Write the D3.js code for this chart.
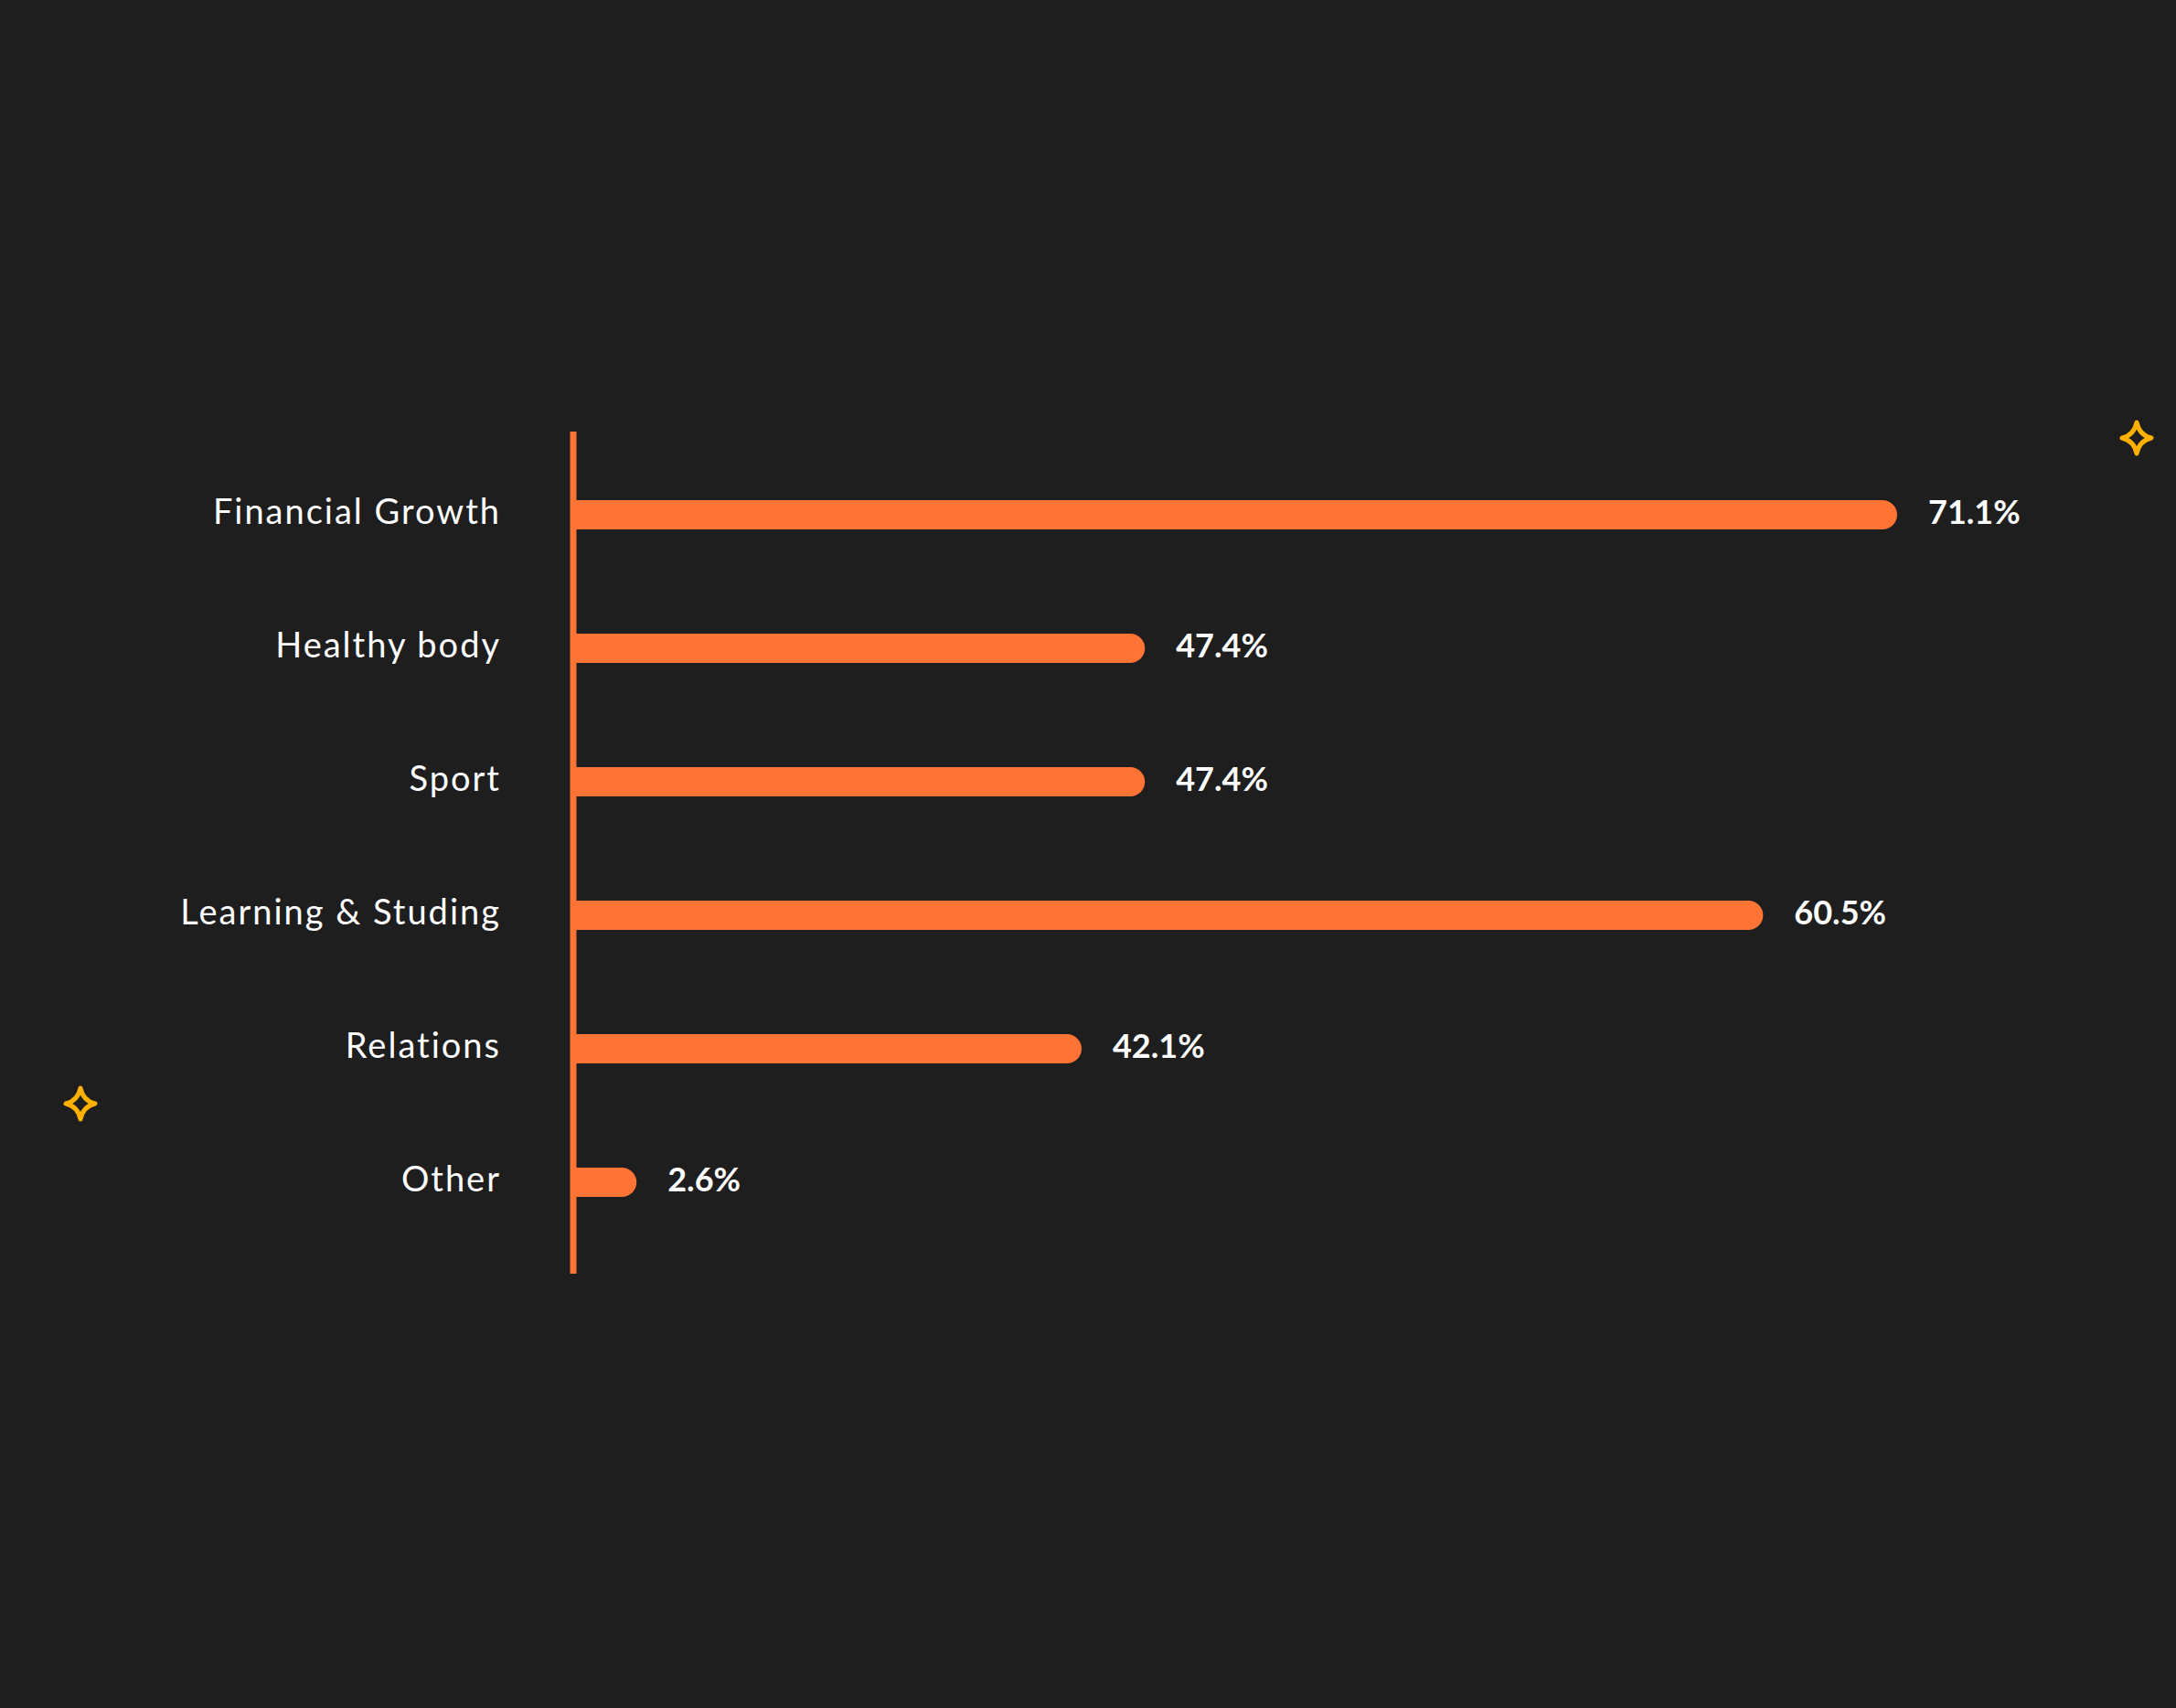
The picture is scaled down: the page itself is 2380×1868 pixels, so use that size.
<!DOCTYPE html>
<html>
<head>
<meta charset="utf-8">
<script src="https://cdn.jsdelivr.net/npm/d3@7/dist/d3.min.js"></script>
<style>
  html, body { margin: 0; padding: 0; background: #1e1e1e; }
  svg { display: block; }
</style>
</head>
<body>
<svg id="chart" width="2380" height="1868"></svg>
<script>
// ---- data ----
const categories = ["Financial Growth", "Healthy body", "Sport", "Learning & Studing", "Relations", "Other"];
// percentages printed next to each bar
const values = [71.1, 47.4, 47.4, 60.5, 42.1, 2.6];
// bar lengths as drawn in the original (in the same % units; the original's
// bars are not drawn proportional to their printed labels)
const barLengths = [71.1, 30.7, 30.7, 63.9, 27.3, 3.4];

// ---- layout ----
const W = 2380, H = 1868;
const axisX = 627;
const svg = d3.select("#chart");

svg.append("rect").attr("width", W).attr("height", H).attr("fill", "#1e1e1e");

const x = d3.scaleLinear().domain([0, 71.1]).range([axisX, 2075]);
const y = d3.scalePoint().domain(categories).range([563, 1293]);

const barH = 32;
const r = barH / 2;
const orange = "#ff7434";

const rows = categories.map((c, i) => ({ cat: c, value: values[i], len: barLengths[i] }));

// bars: square at the axis, rounded at the right end
function barPath(d) {
  const x0 = x(0), x1 = x(d.len), yc = y(d.cat);
  const top = yc - r, bot = yc + r;
  const xr = Math.max(x0, x1 - r);
  return `M${x0},${top} L${xr},${top} A${r},${r} 0 0 1 ${xr},${bot} L${x0},${bot} Z`;
}

svg.append("g").selectAll("path")
  .data(rows).join("path")
  .attr("d", barPath)
  .attr("fill", orange);

// vertical axis line
svg.append("line")
  .attr("x1", axisX).attr("x2", axisX)
  .attr("y1", 472).attr("y2", 1393)
  .attr("stroke", orange).attr("stroke-width", 7);

// category labels
svg.append("g").selectAll("text")
  .data(rows).join("text")
  .attr("x", 548)
  .attr("y", d => y(d.cat) + 10)
  .attr("text-anchor", "end")
  .attr("fill", "#ffffff")
  .style("font-family", "Lato, 'Open Sans', sans-serif")
  .style("font-size", "38px")
  .style("font-weight", 400)
  .style("letter-spacing", "2px")
  .text(d => d.cat);

// value labels
svg.append("g").selectAll("text")
  .data(rows).join("text")
  .attr("x", d => x(d.len) + 34)
  .attr("y", d => y(d.cat) + 10)
  .attr("fill", "#ffffff")
  .style("font-family", "Lato, 'Open Sans', sans-serif")
  .style("font-size", "36px")
  .style("font-weight", 700)
  .text(d => d3.format(".1f")(d.value) + "%");

// decorative sparkles
function sparkle(cx, cy, rx, ry) {
  const k = 0.18;
  return `M${cx},${cy - ry} Q${cx + rx * k},${cy - ry * k} ${cx + rx},${cy}` +
         ` Q${cx + rx * k},${cy + ry * k} ${cx},${cy + ry}` +
         ` Q${cx - rx * k},${cy + ry * k} ${cx - rx},${cy}` +
         ` Q${cx - rx * k},${cy - ry * k} ${cx},${cy - ry} Z`;
}
const stars = [[2337, 479], [88, 1207]];
svg.append("g").selectAll("path")
  .data(stars).join("path")
  .attr("d", d => sparkle(d[0], d[1], 16, 17))
  .attr("fill", "none")
  .attr("stroke", "#ffb000")
  .attr("stroke-width", 5)
  .attr("stroke-linejoin", "round");
</script>
</body>
</html>
